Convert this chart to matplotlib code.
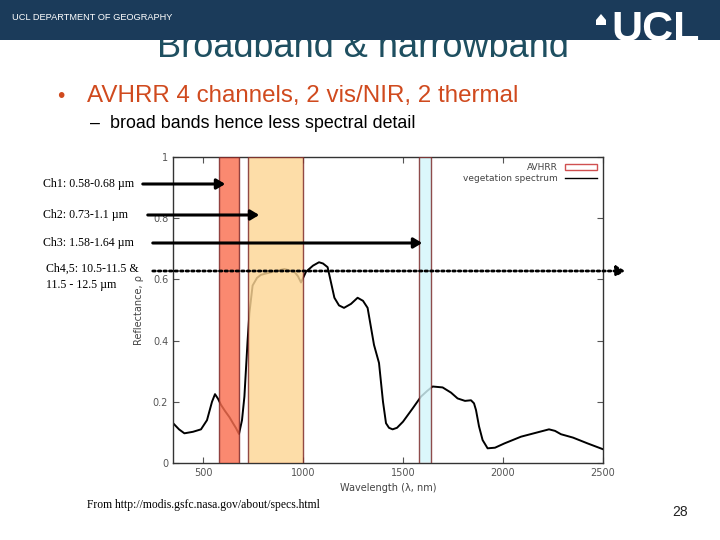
import matplotlib
matplotlib.use("Agg")
import matplotlib.pyplot as plt
from matplotlib.patches import Rectangle, Polygon, Patch, FancyArrowPatch
from matplotlib.lines import Line2D

# ---- data ----
wavelength = [355, 380, 407, 450, 490, 520, 545, 560, 575, 590, 610, 632, 650, 665, 680,
              695, 707, 723, 732, 748, 770, 790, 850, 907, 957, 975, 990, 1015, 1050, 1080,
              1100, 1123, 1157, 1180, 1205, 1240, 1273, 1300, 1323, 1355, 1380, 1400, 1415,
              1430, 1448, 1470, 1500, 1550, 1590, 1620, 1648, 1698, 1740, 1773, 1810, 1840,
              1855, 1865, 1880, 1898, 1923, 1960, 2007, 2090, 2160, 2230, 2260, 2290, 2350,
              2423, 2500]
reflectance = [0.127, 0.11, 0.097, 0.102, 0.11, 0.14, 0.2, 0.225, 0.21, 0.19, 0.17, 0.15,
               0.13, 0.114, 0.095, 0.14, 0.217, 0.40, 0.49, 0.58, 0.605, 0.615, 0.625, 0.634,
               0.625, 0.61, 0.59, 0.625, 0.645, 0.656, 0.652, 0.64, 0.54, 0.515, 0.507, 0.52,
               0.54, 0.53, 0.507, 0.386, 0.327, 0.2, 0.13, 0.115, 0.11, 0.115, 0.135, 0.18,
               0.217, 0.235, 0.25, 0.247, 0.23, 0.211, 0.203, 0.205, 0.195, 0.173, 0.12,
               0.075, 0.048, 0.05, 0.064, 0.086, 0.098, 0.11, 0.105, 0.094, 0.083, 0.064, 0.045]

band_names = ["Ch1", "Ch2", "Ch3"]
band_start = [580, 725, 1580]
band_end = [680, 1000, 1640]
band_colors = ["#F96F50", "#FDD695", "#D3F6FB"]

channel_labels = ["Ch1: 0.58-0.68 \u00b5m", "Ch2: 0.73-1.1 \u00b5m", "Ch3: 1.58-1.64 \u00b5m",
                  "Ch4,5: 10.5-11.5 &\n11.5 - 12.5 \u00b5m"]

xticks = [500, 1000, 1500, 2000, 2500]
yticks = [0, 0.2, 0.4, 0.6, 0.8, 1.0]
ytick_labels = ["0", "0.2", "0.4", "0.6", "0.8", "1"]

W, H = 720, 540
fig = plt.figure(figsize=(7.2, 5.4), dpi=100)
fig.patch.set_facecolor("white")

def fx(x):
    return x / W

def fy(y):
    return 1 - y / H

# ---- title (partly hidden under banner) ----
fig.text(fx(363), fy(57), "Broadband & narrowband", ha="center", va="baseline",
         fontsize=26, color="#1E4F60", family="Liberation Sans", zorder=1)

# ---- banner ----
banner = Rectangle((0, fy(40)), 1, 40 / H, transform=fig.transFigure,
                   facecolor="#1B3B5A", edgecolor="none", zorder=5)
fig.patches.append(banner)
fig.text(fx(12), fy(18), "UCL DEPARTMENT OF GEOGRAPHY", ha="left", va="center",
         fontsize=6.7, color="white", family="Liberation Sans", zorder=6)
fig.text(fx(611), fy(41), "UCL", ha="left", va="baseline", fontsize=31,
         fontweight="bold", color="white", family="Liberation Sans", zorder=6)
dome = Polygon([[fx(596), fy(25)], [fx(606), fy(25)], [fx(606), fy(20)], [fx(601), fy(14)],
                [fx(596), fy(20)]], closed=True, transform=fig.transFigure,
               facecolor="white", edgecolor="none", zorder=6)
fig.patches.append(dome)

# ---- bullets ----
fig.text(fx(57), fy(102), "\u2022", ha="left", va="baseline", fontsize=15,
         color="#D04A1E", family="Liberation Sans")
fig.text(fx(87), fy(102), "AVHRR 4 channels, 2 vis/NIR, 2 thermal", ha="left",
         va="baseline", fontsize=17.4, color="#D04A1E", family="Liberation Sans")
fig.text(fx(90), fy(128), "\u2013  broad bands hence less spectral detail", ha="left",
         va="baseline", fontsize=12.9, color="black", family="Liberation Sans")

# ---- chart ----
ax = fig.add_axes([fx(173), 1 - 463 / H, (603 - 173) / W, (463 - 157) / H])
ax.plot(wavelength, reflectance, color="black", lw=1.4, zorder=2,
        label="vegetation spectrum")
for i, (s, e, c) in enumerate(zip(band_start, band_end, band_colors)):
    ax.axvspan(s, e, ymin=0, ymax=1.0, facecolor=c, edgecolor="#7A2525", lw=1.0,
               alpha=0.82, zorder=3, label="AVHRR" if i == 0 else None)
ax.set_xlim(350, 2500)
ax.set_ylim(0, 1)
ax.set_xticks(xticks)
ax.set_xticklabels([str(t) for t in xticks])
ax.set_yticks(yticks)
ax.set_yticklabels(ytick_labels)
ax.tick_params(direction="in", top=True, right=True, length=4, labelsize=7,
               labelcolor="#555555", colors="#555555")
for sp in ax.spines.values():
    sp.set_color("#333333")
    sp.set_linewidth(1.0)
ax.set_xlabel("Wavelength (\u03bb, nm)", fontsize=7, color="#444444", labelpad=4)
ax.set_ylabel("Reflectance, \u03c1", fontsize=7, color="#444444", labelpad=6)

handles = [Patch(facecolor="white", edgecolor="#D05050", lw=1.0),
           Line2D([0], [0], color="black", lw=1.0)]
leg = ax.legend(handles, ["AVHRR", "vegetation spectrum"], loc="upper right",
                frameon=False, markerfirst=False, fontsize=6.5, handlelength=3.5,
                handleheight=0.6, labelspacing=0.2, borderaxespad=0.3)
for t in leg.get_texts():
    t.set_color("#444444")

# ---- channel annotations ----
label_pos = [(43, 184), (43, 215), (43, 243), (46, 277)]
arrow_rows = [(140, 228, 184), (145, 262, 215), (150, 425, 243)]
for (lx, ly), txt in zip(label_pos, channel_labels):
    fig.text(fx(lx), fy(ly), txt, ha="left", va="center", fontsize=8.6,
             family="Liberation Serif", color="black", linespacing=1.45)
for x0, x1, y in arrow_rows:
    fig.add_artist(FancyArrowPatch(
        (fx(x0), fy(y)), (fx(x1), fy(y)), transform=fig.transFigure,
        arrowstyle="-|>,head_length=5,head_width=3", lw=2.2, color="black",
        zorder=10))
fig.add_artist(FancyArrowPatch(
    (fx(150), fy(271)), (fx(628), fy(271)), transform=fig.transFigure,
    arrowstyle="-|>,head_length=5,head_width=3", lw=2.0, color="black",
    linestyle=(0, (0.9, 1.1)), zorder=10))

# ---- footer ----
fig.text(fx(87), fy(505), "From http://modis.gsfc.nasa.gov/about/specs.html",
         ha="left", va="center", fontsize=8.4, family="Liberation Serif", color="black")
fig.text(fx(680), fy(512), "28", ha="center", va="center", fontsize=10,
         family="Liberation Sans", color="#222222")

fig.savefig("out.png", dpi=100)
